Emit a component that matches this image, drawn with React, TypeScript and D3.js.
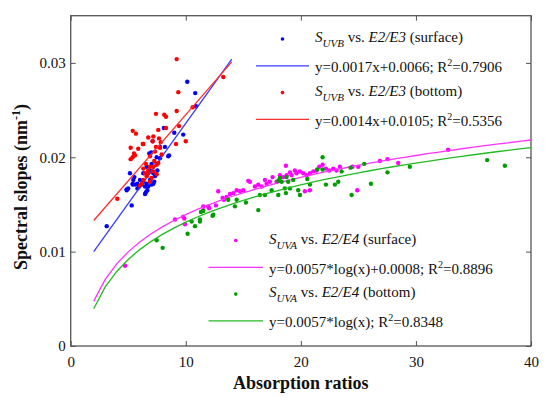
import React, { useEffect, useRef } from 'react'
import * as d3 from 'd3'

type Pt = [number, number]

// S_UVB vs. E2/E3, surface (blue)
const uvbSurface: Pt[] = [
  [10.13, 0.028], [10.82, 0.0268], [10.89, 0.0254], [8.1, 0.0231], [9.0, 0.0226],
  [9.78, 0.0224], [8.19, 0.0211], [7.76, 0.0211], [8.54, 0.0202], [6.83, 0.0204],
  [7.0, 0.0205], [7.47, 0.02], [7.76, 0.0199], [8.48, 0.0201], [5.15, 0.0183],
  [5.53, 0.0179], [5.39, 0.0171], [4.87, 0.0165], [5.0, 0.0167], [4.86, 0.0166],
  [5.3, 0.0149], [6.54, 0.0163], [7.26, 0.0174], [3.13, 0.0127], [5.38, 0.0172],
  [5.44, 0.0176], [5.6, 0.0171], [5.8, 0.0172], [5.8, 0.0167], [6.46, 0.0161],
  [6.02, 0.0176], [6.31, 0.0174], [6.6, 0.0172], [6.89, 0.0176], [6.17, 0.0171],
  [6.46, 0.0169], [6.74, 0.0169], [7.03, 0.0171], [7.32, 0.018], [7.18, 0.0183],
  [6.89, 0.0186], [6.6, 0.019], [7.47, 0.0193], [7.03, 0.0193], [6.31, 0.0183],
  [5.96, 0.0169], [6.66, 0.0165], [7.18, 0.0172], [7.53, 0.0186], [7.12, 0.0217],
]

// S_UVB vs. E2/E3, bottom (red)
const uvbBottom: Pt[] = [
  [9.21, 0.0304], [13.26, 0.0285], [9.35, 0.0269], [9.21, 0.0249], [10.6, 0.0253],
  [7.41, 0.0246], [8.13, 0.0245], [8.28, 0.0243], [9.41, 0.0233], [5.39, 0.0228],
  [5.67, 0.0225], [7.61, 0.0229], [8.28, 0.0231], [6.74, 0.0221], [7.18, 0.0222],
  [7.67, 0.022], [6.31, 0.0214], [5.87, 0.0209], [5.21, 0.021], [5.5, 0.0204],
  [5.21, 0.0198], [9.15, 0.0214], [10.0, 0.0217], [7.41, 0.0211], [7.76, 0.021],
  [6.89, 0.0201], [7.26, 0.0196], [4.05, 0.0156], [6.17, 0.0172], [6.26, 0.0214],
  [7.12, 0.0217], [7.82, 0.0216], [7.32, 0.0206], [5.59, 0.0202], [5.38, 0.02],
  [6.54, 0.0193], [6.89, 0.019], [6.74, 0.0186], [7.18, 0.019], [7.47, 0.0192],
  [7.61, 0.0194], [6.45, 0.0183], [6.74, 0.0183], [6.31, 0.0188], [6.6, 0.018],
  [7.03, 0.0178], [6.31, 0.0176], [6.89, 0.0174], [7.18, 0.0185], [7.47, 0.0182],
  [6.02, 0.017], [7.9, 0.0203],
]

// S_UVA vs. E2/E4, surface (magenta)
const uvaSurface: Pt[] = [
  [32.8, 0.0208], [28.46, 0.0194], [27.53, 0.0198], [26.87, 0.0196], [24.99, 0.019],
  [24.49, 0.019], [24.9, 0.0165], [23.39, 0.019], [23.1, 0.0186], [22.81, 0.0188],
  [22.47, 0.0186], [22.18, 0.0188], [21.89, 0.0192], [21.6, 0.019], [21.37, 0.0186],
  [21.08, 0.0185], [20.79, 0.0183], [20.5, 0.0181], [20.21, 0.0183], [19.92, 0.0185],
  [19.63, 0.0183], [19.48, 0.0186], [19.19, 0.0181], [19.05, 0.0184], [18.76, 0.0181],
  [18.7, 0.0191], [18.47, 0.0179], [18.18, 0.0181], [18.12, 0.0176], [17.89, 0.0174],
  [17.54, 0.0179], [17.31, 0.0174], [17.02, 0.0172], [16.88, 0.0176], [16.59, 0.0169],
  [16.3, 0.0171], [16.01, 0.0169], [15.57, 0.0174], [15.43, 0.0175], [15.0, 0.0165],
  [14.7, 0.0164], [14.42, 0.0165], [14.13, 0.0162], [13.84, 0.0161], [13.55, 0.0158],
  [13.32, 0.0155], [13.2, 0.0157], [12.82, 0.0164], [12.62, 0.0149], [11.95, 0.0148],
  [11.52, 0.0144], [20.35, 0.0164], [20.79, 0.0165], [4.72, 0.0085], [9.06, 0.0134],
  [9.78, 0.0137], [9.87, 0.0135], [9.93, 0.0129], [11.52, 0.0148], [12.02, 0.0146],
]

// S_UVA vs. E2/E4, bottom (green)
const uvaBottom: Pt[] = [
  [37.73, 0.0191], [36.19, 0.0197], [29.47, 0.019], [27.53, 0.0184], [26.09, 0.0172],
  [25.51, 0.0193], [24.41, 0.016], [24.32, 0.0189], [23.54, 0.0185], [23.25, 0.0174],
  [22.96, 0.0171], [22.18, 0.0171], [21.89, 0.0187], [21.89, 0.02], [21.42, 0.0187],
  [20.79, 0.0171], [20.56, 0.0177], [19.92, 0.016], [19.77, 0.0165], [19.34, 0.0176],
  [19.05, 0.0167], [18.9, 0.0174], [18.7, 0.0162], [18.61, 0.0167], [18.33, 0.0174],
  [18.04, 0.016], [18.04, 0.0175], [17.46, 0.0165], [16.88, 0.016], [16.44, 0.016],
  [16.3, 0.0144], [15.23, 0.0152], [14.42, 0.0155], [14.27, 0.0148], [13.69, 0.0155],
  [12.33, 0.0138], [11.52, 0.0143], [11.23, 0.0134], [18.18, 0.0178], [18.76, 0.0179],
  [7.47, 0.0112], [7.99, 0.0104], [10.16, 0.0119], [10.51, 0.0132], [10.8, 0.0127],
  [11.23, 0.0132], [11.32, 0.0142], [12.39, 0.0139],
]

// fit coefficients as printed in the legend
const linFits = [
  { slope: 0.0017, intercept: 0.0066, from: 2, to: 14 },
  { slope: 0.0014, intercept: 0.0105, from: 2, to: 14 },
]
const logFits = [
  { a: 0.0057, b: 0.0008, from: 2, to: 40 },
  { a: 0.0057, b: 0, from: 2, to: 40 },
]

const xTicks = [0, 10, 20, 30, 40]
const yTicks = [0, 0.01, 0.02, 0.03]

const legendTitles = [
  { sub: 'UVB', ratio: 'E2/E3', where: '(surface)' },
  { sub: 'UVB', ratio: 'E2/E3', where: '(bottom)' },
  { sub: 'UVA', ratio: 'E2/E4', where: '(surface)' },
  { sub: 'UVA', ratio: 'E2/E4', where: '(bottom)' },
]
const legendEqs = [
  ['y=0.0017x+0.0066; R', '=0.7906'],
  ['y=0.0014x+0.0105; R', '=0.5356'],
  ['y=0.0057*log(x)+0.0008; R', '=0.8896'],
  ['y=0.0057*log(x); R', '=0.8348'],
]

const dotColors = ['#0000ff', '#ff0000', '#ff00ff', '#009c00']
const lineColors = ['#3a3aff', '#ff3030', '#ff33ff', '#22bb22']

const font = '"Liberation Serif", "Times New Roman", Times, serif'

export default function App() {
  const svgRef = useRef<SVGSVGElement>(null)

  useEffect(() => {
    if (!svgRef.current) return
    document.body.style.margin = '0'
    const svg = d3.select(svgRef.current)
    svg.selectAll('*').remove()

    const width = 550
    const height = 401
    const margin = { top: 15.7, right: 19, bottom: 55, left: 70.7 }
    const innerWidth = width - margin.left - margin.right
    const innerHeight = height - margin.top - margin.bottom
    const axisColor = '#555'

    const g = svg
      .append('g')
      .attr('transform', `translate(${margin.left},${margin.top})`)

    const xScale = d3.scaleLinear().domain([0, 40]).range([0, innerWidth])
    const yScale = d3.scaleLinear().domain([0, 0.035]).range([innerHeight, 0])

    // axes with inward ticks
    const styleAxis = (sel: d3.Selection<SVGGElement, unknown, null, undefined>, labels: boolean) => {
      sel.attr('font-family', font).attr('font-size', 15)
      sel.select('.domain').remove()
      sel.selectAll('.tick line').attr('stroke', axisColor).attr('stroke-width', 1)
      sel
        .selectAll('.tick text')
        .attr('fill', '#111')
        .style('display', labels ? null : 'none')
    }

    g.append('g')
      .attr('transform', `translate(0,${innerHeight})`)
      .call(d3.axisBottom(xScale).tickValues(xTicks).tickSizeInner(-5).tickSizeOuter(0).tickPadding(10).tickFormat(d3.format('d')))
      .call((s) => styleAxis(s, true))
    g.append('g')
      .call(d3.axisTop(xScale).tickValues(xTicks).tickSizeInner(-5).tickSizeOuter(0))
      .call((s) => styleAxis(s, false))
    g.append('g')
      .call(d3.axisLeft(yScale).tickValues(yTicks).tickSizeInner(-5).tickSizeOuter(0).tickPadding(5).tickFormat((d) => (d === 0 ? '0' : d3.format('.2f')(d as number))))
      .call((s) => styleAxis(s, true))
    g.append('g')
      .attr('transform', `translate(${innerWidth},0)`)
      .call(d3.axisRight(yScale).tickValues(yTicks).tickSizeInner(-5).tickSizeOuter(0))
      .call((s) => styleAxis(s, false))

    g.append('rect')
      .attr('width', innerWidth)
      .attr('height', innerHeight)
      .attr('fill', 'none')
      .attr('stroke', axisColor)
      .attr('stroke-width', 1.3)

    const series = [uvbSurface, uvbBottom, uvaSurface, uvaBottom]
    const line = d3
      .line<Pt>()
      .x((d) => xScale(d[0]))
      .y((d) => yScale(d[1]))

    series.forEach((pts, i) => {
      g.append('g')
        .selectAll('circle')
        .data(pts)
        .join('circle')
        .attr('cx', (d) => xScale(d[0]))
        .attr('cy', (d) => yScale(d[1]))
        .attr('r', 2.2)
        .attr('fill', dotColors[i])

      let fitPts: Pt[]
      if (i < 2) {
        const f = linFits[i]
        fitPts = [f.from, f.to].map((x) => [x, f.slope * x + f.intercept] as Pt)
      } else {
        const f = logFits[i - 2]
        fitPts = d3.range(f.from, f.to + 1).map((x) => [x, f.a * Math.log(x) + f.b] as Pt)
      }
      g.append('path')
        .datum(fitPts)
        .attr('fill', 'none')
        .attr('stroke', lineColors[i])
        .attr('stroke-width', 1.3)
        .attr('d', line)
    })

    // legends: two blocks
    const blocks = [
      { x: 256, y: 39, items: [0, 1], lineW: 53 },
      { x: 208.5, y: 240.5, items: [2, 3], lineW: 54.5 },
    ]
    const rowGap = 26.8
    blocks.forEach((b) => {
      b.items.forEach((idx, k) => {
        const top = b.y + k * 2 * rowGap
        const textX = b.x + b.lineW + 6
        svg.append('circle')
          .attr('cx', b.x + b.lineW / 2)
          .attr('cy', top)
          .attr('r', 1.8)
          .attr('fill', dotColors[idx])

        const t = svg.append('text')
          .attr('x', textX)
          .attr('y', top + 3)
          .attr('font-family', font)
          .attr('font-size', 15)
          .attr('fill', '#111')
        const lt = legendTitles[idx]
        t.append('tspan').attr('font-style', 'italic').text('S')
        t.append('tspan').attr('font-style', 'italic').attr('font-size', 11).attr('dy', 5).text(lt.sub)
        t.append('tspan').attr('dy', -5).text(' vs. ')
        t.append('tspan').attr('font-style', 'italic').text(lt.ratio)
        t.append('tspan').text(' ' + lt.where)

        const ly = top + rowGap
        svg.append('line')
          .attr('x1', b.x)
          .attr('x2', b.x + b.lineW)
          .attr('y1', ly)
          .attr('y2', ly)
          .attr('stroke', lineColors[idx])
          .attr('stroke-width', 1.3)

        const eq = svg.append('text')
          .attr('x', textX)
          .attr('y', ly + 6.5)
          .attr('font-family', font)
          .attr('font-size', 15)
          .attr('fill', '#111')
        eq.append('tspan').text(legendEqs[idx][0])
        eq.append('tspan').attr('font-size', 10).attr('dy', -6).text('2')
        eq.append('tspan').attr('dy', 6).text(legendEqs[idx][1])
      })
    })

    // axis titles
    svg.append('text')
      .attr('x', margin.left + innerWidth / 2)
      .attr('y', 389)
      .attr('text-anchor', 'middle')
      .attr('font-family', font)
      .attr('font-size', 18)
      .attr('font-weight', 'bold')
      .attr('fill', '#111')
      .text('Absorption ratios')

    const yt = svg.append('text')
      .attr('transform', 'translate(27,187) rotate(-90)')
      .attr('text-anchor', 'middle')
      .attr('font-family', font)
      .attr('font-size', 18)
      .attr('font-weight', 'bold')
      .attr('fill', '#111')
    yt.append('tspan').text('Spectral slopes (nm')
    yt.append('tspan').attr('font-size', 12).attr('dy', -7).text('-1')
    yt.append('tspan').attr('dy', 7).text(')')
  }, [])

  return (
    <div style={{ position: 'absolute', left: 0, top: 0 }}>
      <svg ref={svgRef} width={550} height={401} style={{ display: 'block', background: '#fff', fontFamily: font }} />
    </div>
  )
}
